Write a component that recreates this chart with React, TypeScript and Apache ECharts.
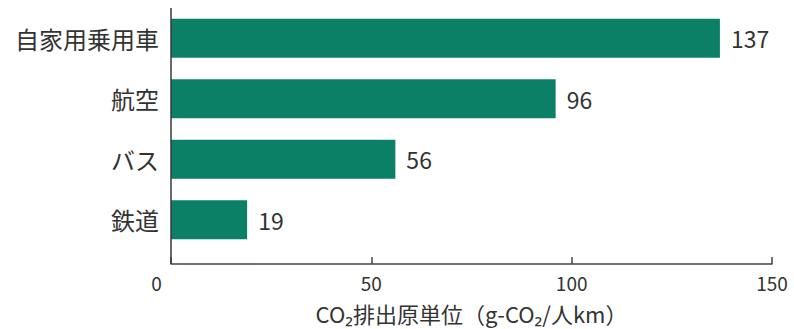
import React, { useEffect, useRef } from "react";
import * as echarts from "echarts";

const categories = ["自家用乗用車", "航空", "バス", "鉄道"];
const values = [137, 96, 56, 19];
const xTicks = [0, 50, 100, 150];
const axisName = "CO₂排出原単位（g-CO₂/人km）";

const FONT = '"Noto Sans CJK JP", "Noto Sans", sans-serif';
const TEXT = "#333333";
const BAR = "#0b8066";

export default function App() {
  const ref = useRef<HTMLDivElement>(null);
  useEffect(() => {
    if (!ref.current) return;
    const chart = echarts.init(ref.current, undefined, { renderer: "svg" });
    chart.setOption({
      animation: false,
      backgroundColor: "#ffffff",
      textStyle: { fontFamily: FONT },
      grid: { left: 171, right: 22, top: 8, bottom: 79 },
      xAxis: {
        type: "value",
        min: xTicks[0],
        max: xTicks[xTicks.length - 1],
        interval: 50,
        offset: 14,
        axisLine: { show: true, lineStyle: { color: "#444444", width: 1.5 } },
        axisTick: { show: true, inside: true, length: 7, lineStyle: { color: "#444444", width: 1.5 } },
        splitLine: { show: false },
        axisLabel: {
          margin: 9,
          fontSize: 19,
          lineHeight: 19,
          color: TEXT,
          fontFamily: FONT,
          formatter: (v: number) => (v === 0 ? "{z|0}" : String(v)),
          rich: { z: { fontSize: 19, lineHeight: 19, color: TEXT, fontFamily: FONT, padding: [0, 29, 0, 0] } },
        },
        name: axisName,
        nameLocation: "middle",
        nameGap: 38,
        nameTextStyle: { fontSize: 22, lineHeight: 22, color: TEXT, fontFamily: FONT },
      },
      yAxis: {
        type: "category",
        data: categories,
        inverse: true,
        axisLine: { show: false },
        axisTick: { show: false },
        axisLabel: { margin: 12, fontSize: 24, color: TEXT, fontFamily: FONT },
      },
      series: [
        {
          type: "bar",
          data: values,
          barWidth: 39,
          itemStyle: { color: BAR },
          label: {
            show: true,
            position: "right",
            distance: 11,
            fontSize: 23,
            color: TEXT,
            fontFamily: FONT,
          },
        },
      ],
      graphic: [
        {
          type: "line",
          shape: { x1: 171, y1: 8, x2: 171, y2: 264 },
          style: { stroke: "#3a3a3a", lineWidth: 1.5 },
          z: 10,
        },
      ],
    });
    return () => chart.dispose();
  }, []);
  return (
    <div
      ref={ref}
      style={{ position: "fixed", left: 0, top: 0, width: 794, height: 329 }}
    />
  );
}
